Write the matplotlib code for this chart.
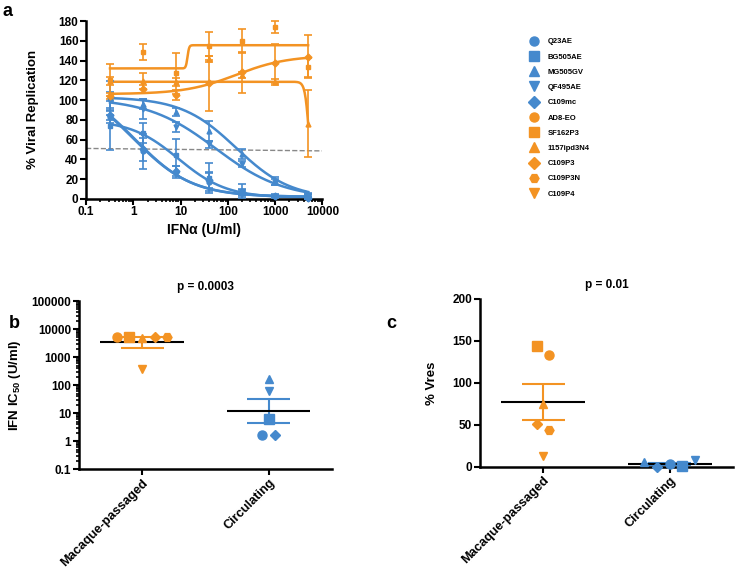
import numpy as np
import matplotlib
matplotlib.use('Agg')
import matplotlib.pyplot as plt
from matplotlib.lines import Line2D
from matplotlib.ticker import LogLocator, FuncFormatter, NullFormatter, FixedLocator

plt.rcParams['font.family'] = ['Liberation Sans', 'DejaVu Sans']
plt.rcParams['font.weight'] = 'bold'
plt.rcParams['mathtext.fontset'] = 'custom'
plt.rcParams['mathtext.rm'] = 'Liberation Sans:bold'
plt.rcParams['mathtext.bf'] = 'Liberation Sans:bold'

BLUE = '#4589cd'
ORANGE = '#f39323'

#### panel a data (IFNa dose, % viral replication)
conc = [0.32, 1.6, 8, 40, 200, 1000, 5000]
curve_names = ['Q23AE', 'BG505AE', 'MG505GV', 'QF495AE', 'C109mc', 'SF162P3', '1157ipd3N4', 'C109P3']
rep_vals = [[83, 48, 27, 17, 6, 3, 1],
            [74, 67, 44, 21, 8, 3, 2],
            [102, 96, 88, 69, 45, 18, 4],
            [100, 91, 73, 55, 35, 17, 3],
            [85, 50, 28, 19, 7, 3, 1],
            [120, 149, 127, 155, 160, 174, 133],
            [119, 119, 118, 142, 125, 118, 76],
            [104, 111, 105, 117, 128, 137, 144]]
rep_err = [[6, 18, 6, 9, 3, 1, 1],
           [25, 10, 17, 15, 7, 2, 2],
           [17, 5, 4, 10, 5, 4, 2],
           [8, 10, 5, 4, 3, 3, 2],
           [5, 12, 5, 8, 3, 1, 1],
           [16, 8, 21, 14, 12, 6, 10],
           [4, 8, 4, 3, 3, 3, 34],
           [3, 4, 5, 28, 21, 20, 22]]
# 4PL fit parameters (plateau at low dose, plateau at high dose)
fit_low = [120, 80, 103, 102, 118, 132, 118.5, 106]
fit_high = [2, 1, 0, 0, 2, 155.5, 0, 145]
fit_ic50 = [1.0, 9, 150, 55, 1.1, 14, 5300, 150]
fit_hill = [0.7, 0.85, 0.75, 0.6, 0.72, 25, 10, 0.8]
ref_x = [0.1, 10000]
ref_y = [51, 48.5]

legend_names = ['Q23AE', 'BG505AE', 'MG505GV', 'QF495AE', 'C109mc',
                'AD8-EO', 'SF162P3', '1157ipd3N4', 'C109P3', 'C109P3N', 'C109P4']

#### panel b / c data
groups = ['Macaque-passaged', 'Circulating']
mac_names = ['AD8-EO', 'SF162P3', '1157ipd3N4', 'C109P3', 'C109P3N', 'C109P4']
circ_names = ['Q23AE', 'BG505AE', 'MG505GV', 'QF495AE', 'C109mc']
ic50_mac = [5300, 5100, 4800, 5000, 5200, 390]
ic50_circ = [1.7, 6, 170, 62, 1.7]
ic50_mean = [3500, 11.8]
ic50_sem_lo = [2140, 4.5]
ic50_sem_hi = [5300, 31]
vres_mac = [133, 144, 75, 51, 44, 13.5]
vres_circ = [3, 1, 6, 8, 0]
vres_mean = [77.4, 3.6]
vres_sem_lo = [56, 2.2]
vres_sem_hi = [98.8, 5]

mk = {'Q23AE': 'o', 'BG505AE': 's', 'MG505GV': '^', 'QF495AE': 'v', 'C109mc': 'D',
      'AD8-EO': 'o', 'SF162P3': 's', '1157ipd3N4': '^', 'C109P3': 'D', 'C109P3N': 'H', 'C109P4': 'v'}
col = {n: (BLUE if n in circ_names else ORANGE) for n in legend_names}


def msize(m):
    if m == 'D':
        return 5
    if m in ('^', 'v'):
        return 6
    return 6.5


def style_axes(ax):
    for s in ['top', 'right']:
        ax.spines[s].set_visible(False)
    for s in ['left', 'bottom']:
        ax.spines[s].set_linewidth(1.8)
    ax.tick_params(which='major', length=4, width=1.5, labelsize=8.5, pad=1.5)
    ax.tick_params(which='minor', length=2.5, width=1.2)
    for lab in ax.get_xticklabels() + ax.get_yticklabels():
        lab.set_fontweight('bold')


fig = plt.figure(figsize=(7.36, 5.68), dpi=100)

######## a
ax = fig.add_axes([0.117, 0.650, 0.321, 0.313])
xfit = np.logspace(np.log10(conc[0]), np.log10(conc[-1]), 400)
for i, n in enumerate(curve_names):
    yfit = fit_high[i] + (fit_low[i] - fit_high[i]) / (1 + (xfit / fit_ic50[i]) ** fit_hill[i])
    ax.plot(xfit, yfit, color=col[n], lw=1.8, zorder=2)
    ax.errorbar(conc, rep_vals[i], yerr=rep_err[i], fmt=mk[n], color=col[n], ms=3.5,
                elinewidth=1.2, capsize=3, capthick=1.2, clip_on=False, zorder=3)
ax.plot(ref_x, ref_y, '--', color='#888888', lw=1, zorder=1)
ax.set_xscale('log')
ax.set_xlim(0.1, 10000)
ax.set_ylim(0, 180)
ax.set_yticks(range(0, 181, 20))
ax.xaxis.set_major_locator(FixedLocator([0.1, 1, 10, 100, 1000, 10000]))
ax.xaxis.set_major_formatter(FuncFormatter(lambda v, p: '%g' % v))
ax.xaxis.set_minor_locator(LogLocator(base=10, subs=range(2, 10), numticks=20))
ax.xaxis.set_minor_formatter(NullFormatter())
ax.set_xlabel('IFN\u03b1 (U/ml)', fontsize=10, fontweight='bold', labelpad=3)
ax.set_ylabel('% Viral Replication', fontsize=9.5, fontweight='bold', labelpad=14)
style_axes(ax)

# legend of all viruses
handles = [Line2D([], [], ls='none', marker=mk[n], color=col[n], ms=6.5) for n in legend_names]
fig.legend(handles, legend_names, loc='upper left', bbox_to_anchor=(0.71, 0.945),
           frameon=False, labelspacing=1.03, handletextpad=1.2,
           handlelength=1.2, prop={'weight': 'bold', 'size': 5.5})

######## b
axb = fig.add_axes([0.107, 0.174, 0.344, 0.296])
mac_off = [-0.2, -0.1, 0, 0.1, 0.2, 0]
circ_off = [-0.055, 0, 0, 0, 0.05]
for i, n in enumerate(mac_names):
    axb.plot(0 + mac_off[i], ic50_mac[i], marker=mk[n], color=ORANGE, ms=msize(mk[n]), ls='none', zorder=4)
for i, n in enumerate(circ_names):
    axb.plot(1 + circ_off[i], ic50_circ[i], marker=mk[n], color=BLUE, ms=msize(mk[n]), ls='none', zorder=4)
for g, c in zip([0, 1], [ORANGE, BLUE]):
    axb.hlines([ic50_sem_lo[g], ic50_sem_hi[g]], g - 0.17, g + 0.17, color=c, lw=1.5, zorder=2)
    axb.vlines(g, ic50_sem_lo[g], ic50_sem_hi[g], color=c, lw=1.5, zorder=2)
    axb.hlines(ic50_mean[g], g - 0.33, g + 0.33, color='black', lw=1.5, zorder=3)
axb.set_yscale('log')
axb.set_ylim(0.1, 100000)
axb.set_xlim(-0.5, 1.5)
axb.yaxis.set_major_locator(FixedLocator([0.1, 1, 10, 100, 1000, 10000, 100000]))
axb.yaxis.set_major_formatter(FuncFormatter(lambda v, p: '%g' % v))
axb.yaxis.set_minor_locator(LogLocator(base=10, subs=range(2, 10), numticks=20))
axb.yaxis.set_minor_formatter(NullFormatter())
axb.set_xticks([0, 1])
axb.set_xticklabels(groups, rotation=45, ha='right', rotation_mode='anchor', fontsize=9.2)
axb.set_ylabel('IFN IC$_{50}$ (U/ml)', fontsize=9.5, fontweight='bold', labelpad=6)
axb.set_title('p = 0.0003', fontsize=8.5, fontweight='bold', pad=8)
style_axes(axb)
axb.tick_params(axis='x', labelsize=9.2)

######## c
axc = fig.add_axes([0.652, 0.178, 0.344, 0.296])
vmac_off = [0.05, -0.05, 0, -0.05, 0.05, 0]
vcirc_off = [0, 0.1, -0.2, 0.2, -0.1]
for i, n in enumerate(mac_names):
    axc.plot(0 + vmac_off[i], vres_mac[i], marker=mk[n], color=ORANGE, ms=msize(mk[n]), ls='none', zorder=4)
for i, n in enumerate(circ_names):
    axc.plot(1 + vcirc_off[i], vres_circ[i], marker=mk[n], color=BLUE, ms=msize(mk[n]), ls='none', zorder=4, clip_on=False)
for g, c in zip([0, 1], [ORANGE, BLUE]):
    axc.hlines([vres_sem_lo[g], vres_sem_hi[g]], g - 0.17, g + 0.17, color=c, lw=1.5, zorder=2)
    axc.vlines(g, vres_sem_lo[g], vres_sem_hi[g], color=c, lw=1.5, zorder=2)
    axc.hlines(vres_mean[g], g - 0.33, g + 0.33, color='black', lw=1.5, zorder=3)
axc.set_ylim(0, 200)
axc.set_xlim(-0.5, 1.5)
axc.set_yticks([0, 50, 100, 150, 200])
axc.set_xticks([0, 1])
axc.set_xticklabels(groups, rotation=45, ha='right', rotation_mode='anchor', fontsize=9.2)
axc.set_ylabel('% Vres', fontsize=9.5, fontweight='bold', labelpad=10)
axc.set_title('p = 0.01', fontsize=8.5, fontweight='bold', pad=8)
style_axes(axc)
axc.tick_params(axis='x', labelsize=9.2)

fig.text(0.004, 0.995, 'a', fontsize=13, fontweight='bold', va='top')
fig.text(0.012, 0.445, 'b', fontsize=13, fontweight='bold', va='top')
fig.text(0.525, 0.445, 'c', fontsize=13, fontweight='bold', va='top')

fig.savefig('out.png', dpi=100)
